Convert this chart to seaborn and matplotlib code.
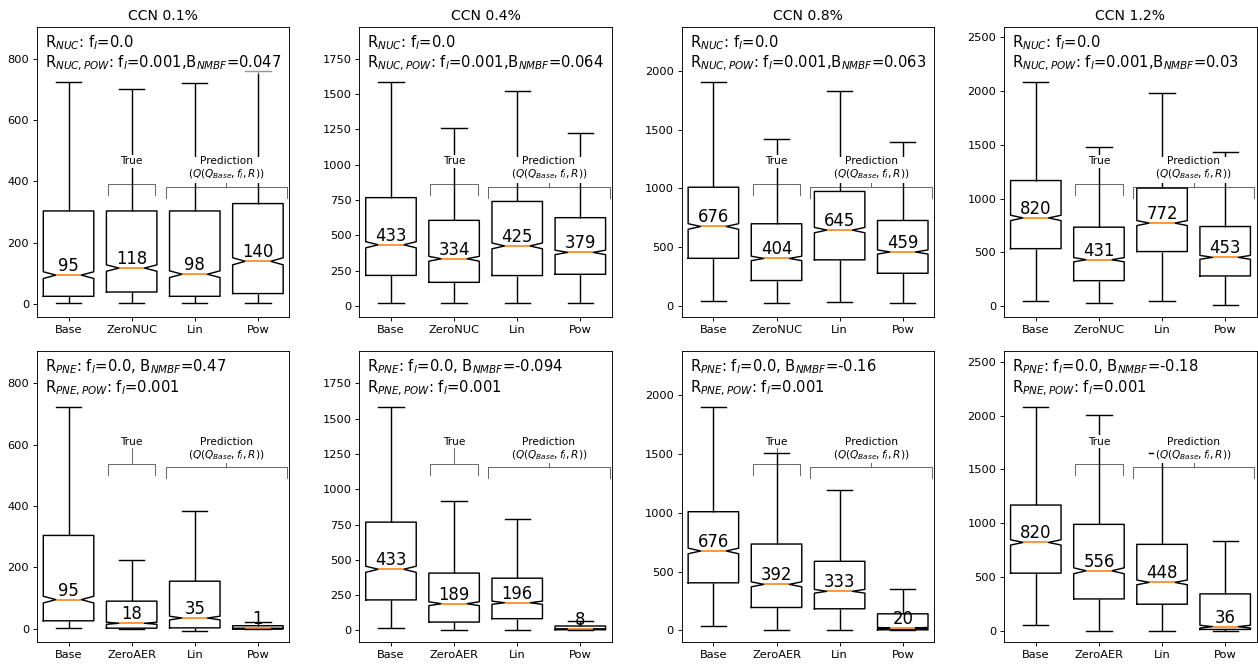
import numpy as np
import pandas as pd
import matplotlib
matplotlib.use("Agg")
import matplotlib.pyplot as plt
import matplotlib.transforms as mtransforms
import seaborn as sns

# ---------------------------------------------------------------------------
# Data: five-number summaries (min, q1, median, q3, max) per CCN level (rows of
# each list) and per case (columns of each list).
# ---------------------------------------------------------------------------
ccn_levels = ["0.1", "0.4", "0.8", "1.2"]
nuc_cases = ["Base", "ZeroNUC", "Lin", "Pow"]
pne_cases = ["Base", "ZeroAER", "Lin", "Pow"]

nuc_min = [[4, 4, 4, 4], [20, 19, 19, 19], [38, 26, 37, 26], [50, 31, 50, 12]]
nuc_q1 = [[26, 40, 26, 35], [216, 167, 215, 224], [405, 216, 392, 278], [534, 236, 507, 280]]
nuc_med = [[95, 118, 98, 140], [433, 334, 425, 379], [676, 404, 645, 459], [820, 431, 772, 453]]
nuc_q3 = [[304, 304, 304, 328], [767, 606, 740, 625], [1010, 699, 974, 727], [1168, 734, 1098, 740]]
nuc_max = [[723, 700, 722, 761], [1584, 1257, 1524, 1222], [1903, 1423, 1832, 1395], [2083, 1477, 1981, 1434]]

pne_min = [[4, 0, -8, 0], [20, 0, 0, 0], [38, 0, 0, 0], [50, 0, 0, 0]]
pne_q1 = [[26, 2, 3, 0], [216, 59, 83, 5], [405, 195, 184, 5], [534, 294, 245, 10]]
pne_med = [[95, 18, 35, 1], [433, 189, 196, 8], [676, 392, 333, 20], [820, 556, 448, 36]]
pne_q3 = [[304, 90, 155, 10], [767, 406, 370, 31], [1010, 735, 588, 141], [1168, 988, 802, 341]]
pne_max = [[723, 223, 384, 23], [1584, 915, 790, 66], [1903, 1508, 1197, 351], [2083, 2009, 1650, 836]]

nuc_bias = ["0.047", "0.064", "0.063", "0.03"]
pne_bias = ["0.47", "-0.094", "-0.16", "-0.18"]

# number of observations behind each box (sets the notch width)
n_obs = 1600

col_ylims = [(-42, 904), (-80, 1978), (-96, 2376), (-104, 2600)]

# ---------------------------------------------------------------------------
DPI = 82
plt.rcParams.update({
    "xtick.labelsize": 10,
    "ytick.labelsize": 10,
    "axes.titlesize": 12.3,
})

fig, axes = plt.subplots(2, 4, figsize=(1258 / DPI, 664 / DPI), dpi=DPI)
fig.subplots_adjust(left=0.0294, right=0.9990, top=0.9598, bottom=0.0336,
                    wspace=0.277, hspace=0.117)

BRACKET_COLOR = "#6b6b6b"


def panel_frame(cases, mins, q1s, meds, q3s, maxs):
    reps = n_obs // 5
    rows = []
    for case, mn, a, m, b, mx in zip(cases, mins, q1s, meds, q3s, maxs):
        for v in np.repeat([mn, a, m, b, mx], reps):
            rows.append((case, float(v)))
    return pd.DataFrame(rows, columns=["case", "value"])


def draw_bracket(ax, xc, half, y, label, y_text):
    trans = mtransforms.blended_transform_factory(ax.transData, ax.transAxes)
    arm = 0.037
    ax.plot([xc - half, xc - half, xc + half, xc + half], [y - arm, y, y, y - arm],
            transform=trans, color=BRACKET_COLOR, lw=0.9, zorder=1.5, clip_on=False)
    ax.plot([xc, xc], [y, y_text - 0.02], transform=trans,
            color=BRACKET_COLOR, lw=0.9, zorder=1.5)
    ax.text(xc, y_text, label, transform=trans, ha="center", va="top",
            fontsize=9.2, zorder=6, linespacing=1.15,
            bbox=dict(facecolor="white", edgecolor="none", pad=1.2))


for row, (cases, mins, q1s, meds, q3s, maxs, biases, tag) in enumerate([
    (nuc_cases, nuc_min, nuc_q1, nuc_med, nuc_q3, nuc_max, nuc_bias, "NUC"),
    (pne_cases, pne_min, pne_q1, pne_med, pne_q3, pne_max, pne_bias, "PNE"),
]):
    for col in range(4):
        ax = axes[row, col]
        df = panel_frame(cases, mins[col], q1s[col], meds[col], q3s[col], maxs[col])
        sns.boxplot(data=df, x="case", y="value", order=cases, ax=ax,
                    notch=True, whis=(0, 100), showfliers=False, width=0.8,
                    fill=False, color="black", linewidth=1.25,
                    medianprops=dict(color="#ff7f0e", linewidth=1.4))
        ax.set_xlabel("")
        ax.set_ylabel("")
        ax.set_ylim(*col_ylims[col])
        ax.set_xlim(-0.5, 3.5)

        # median values written above each median line
        for i, m in enumerate(meds[col]):
            ax.text(i, m, f"{m}", ha="center", va="bottom", fontsize=14.5, zorder=5)

        if row == 0:
            ax.set_title(f"CCN {ccn_levels[col]}%")
            txt = (r"R$_{NUC}$: f$_l$=0.0" + "\n" +
                   r"R$_{NUC, POW}$: f$_l$=0.001,B$_{NMBF}$=" + biases[col])
            y_bar = 0.458
        else:
            txt = (r"R$_{PNE}$: f$_l$=0.0, B$_{NMBF}$=" + biases[col] + "\n" +
                   r"R$_{PNE, POW}$: f$_l$=0.001")
            y_bar = 0.610

        ax.text(0.031, 0.978, txt, transform=ax.transAxes, ha="left", va="top",
                fontsize=13, zorder=6, linespacing=1.15,
                bbox=dict(facecolor="white", edgecolor="none", alpha=0.6, pad=0.5))

        y_text = y_bar + 0.096
        draw_bracket(ax, 1.0, 0.376, y_bar, "True", y_text)
        draw_bracket(ax, 2.5, 0.963, y_bar - 0.009,
                     "Prediction\n" + r"($Q(Q_{Base}, f_l, R)$)", y_text)

fig.savefig("out.png", dpi=DPI)
